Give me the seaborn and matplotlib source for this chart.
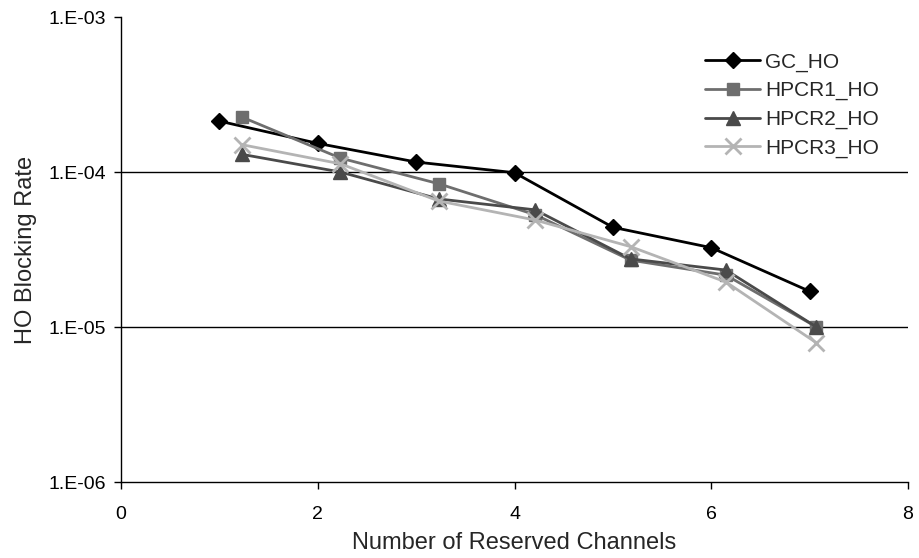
import numpy as np
import pandas as pd
import matplotlib
matplotlib.use("Agg")
import matplotlib.pyplot as plt
import seaborn as sns
from matplotlib.ticker import FixedLocator, NullLocator

series_names = ["GC_HO", "HPCR1_HO", "HPCR2_HO", "HPCR3_HO"]
x_gc = [1, 2, 3, 4, 5, 6, 7]
x_hpcr = [1.23, 2.23, 3.23, 4.21, 5.18, 6.15, 7.07]
gc_ho = [2.13e-4, 1.53e-4, 1.16e-4, 9.9e-5, 4.4e-5, 3.25e-5, 1.7e-5]
hpcr1_ho = [2.26e-4, 1.23e-4, 8.4e-5, 5.3e-5, 2.7e-5, 2.16e-5, 1.0e-5]
hpcr2_ho = [1.3e-4, 1.0e-4, 6.7e-5, 5.7e-5, 2.75e-5, 2.33e-5, 1.0e-5]
hpcr3_ho = [1.5e-4, 1.13e-4, 6.5e-5, 4.9e-5, 3.3e-5, 1.95e-5, 7.9e-6]

y_ticks = [1e-6, 1e-5, 1e-4, 1e-3]
y_tick_labels = ["1.E-06", "1.E-05", "1.E-04", "1.E-03"]
grid_values = [1e-5, 1e-4]
x_ticks = [0, 2, 4, 6, 8]

frames = []
for name, xs, ys in [("GC_HO", x_gc, gc_ho), ("HPCR1_HO", x_hpcr, hpcr1_ho),
                     ("HPCR2_HO", x_hpcr, hpcr2_ho), ("HPCR3_HO", x_hpcr, hpcr3_ho)]:
    frames.append(pd.DataFrame({"x": xs, "y": ys, "series": name}))
df = pd.concat(frames, ignore_index=True)

colors = {"GC_HO": "#000000", "HPCR1_HO": "#6e6e6e", "HPCR2_HO": "#4a4a4a", "HPCR3_HO": "#b4b4b4"}
markers = {"GC_HO": "D", "HPCR1_HO": "s", "HPCR2_HO": "^", "HPCR3_HO": "x"}
msizes = {"GC_HO": 8, "HPCR1_HO": 9, "HPCR2_HO": 10, "HPCR3_HO": 11}

sns.set_style("white")
plt.rcParams["font.family"] = ["Liberation Sans", "DejaVu Sans"]

fig = plt.figure(figsize=(9.19, 5.58), dpi=100)
ax = fig.add_axes([0.1317, 0.1362, 0.8563, 0.8333])

for name in series_names:
    sub = df[df["series"] == name]
    sns.lineplot(data=sub, x="x", y="y", ax=ax, color=colors[name], marker=markers[name],
                 markersize=msizes[name], markeredgecolor=colors[name],
                 markerfacecolor=colors[name], markeredgewidth=2.0 if name == "HPCR3_HO" else 1.0,
                 linewidth=2.0, label=name, estimator=None, sort=False, zorder=3)

ax.set_yscale("log")
ax.set_ylim(1e-6, 1e-3)
ax.set_xlim(0, 8)
ax.yaxis.set_major_locator(FixedLocator(y_ticks))
ax.yaxis.set_minor_locator(NullLocator())
ax.set_yticklabels(y_tick_labels)
ax.set_xticks(x_ticks)
ax.set_xticklabels([str(t) for t in x_ticks])

for gv in grid_values:
    ax.axhline(gv, color="#000000", linewidth=1.0, zorder=1)

for side in ["top", "right"]:
    ax.spines[side].set_visible(False)
for side in ["left", "bottom"]:
    ax.spines[side].set_color("#000000")
    ax.spines[side].set_linewidth(1.0)

ax.tick_params(axis="both", which="major", direction="out", length=5, width=1,
               color="#000000", labelsize=14, labelcolor="#000000", left=True, bottom=True)
ax.tick_params(axis="y", pad=6)
ax.tick_params(axis="x", pad=12)

ax.set_xlabel("Number of Reserved Channels", fontsize=17, labelpad=7)
ax.set_ylabel("HO Blocking Rate", fontsize=17, labelpad=8)

leg = ax.legend(loc="upper left", bbox_to_anchor=(0.742, 0.9235), frameon=False,
                borderpad=0, borderaxespad=0,
                fontsize=15, handlelength=2.65, handletextpad=0.25, labelspacing=0.45)

fig.savefig("out.png", dpi=100)
